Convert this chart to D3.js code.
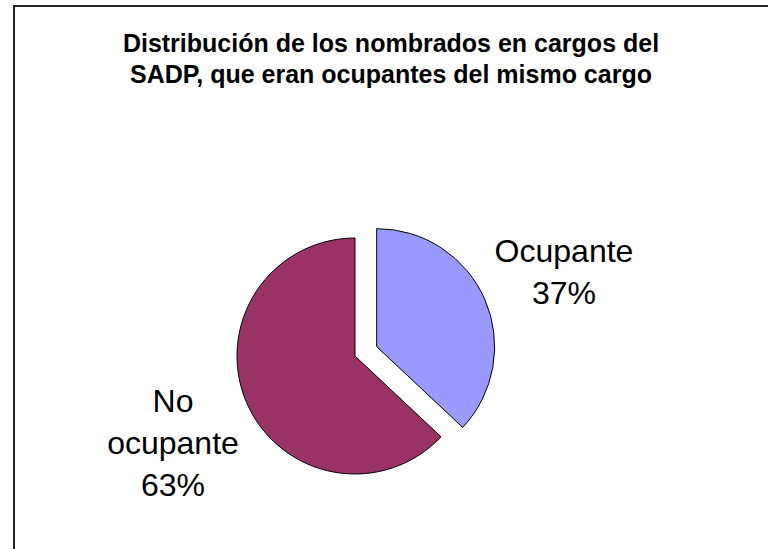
<!DOCTYPE html>
<html>
<head>
<meta charset="utf-8">
<script src="https://cdn.jsdelivr.net/npm/d3@7"></script>
<style>
  html, body { margin: 0; padding: 0; background: #fff; }
  svg { display: block; }
</style>
</head>
<body>
<svg id="chart" width="768" height="549"></svg>
<script>
const titleLines = ["Distribución de los nombrados en cargos del", "SADP, que eran ocupantes del mismo cargo"];
const categories = ["Ocupante", "No ocupante"];
const labelLines = [["Ocupante"], ["No", "ocupante"]];
const values = [37, 63];
const colors = ["#9999FF", "#993366"];

const svg = d3.select("#chart");
const W = 768, H = 549;

// outer frame
svg.append("rect")
  .attr("x", 14).attr("y", 6)
  .attr("width", W).attr("height", H)
  .attr("fill", "none").attr("stroke", "#222").attr("stroke-width", 2);

// title
svg.append("text")
  .attr("text-anchor", "middle")
  .attr("font-family", "Arial, 'Liberation Sans', sans-serif")
  .attr("font-weight", "bold")
  .attr("font-size", 25)
  .attr("fill", "#000")
  .selectAll("tspan").data(titleLines).join("tspan")
  .attr("x", 391)
  .attr("y", (d, i) => 52 + i * 31)
  .text(d => d);

const cx = 355, cy = 356, r = 118, explode = 23.6;
const total = d3.sum(values);
const pie = d3.pie().sort(null).value(d => d)(values);
const arc = d3.arc().innerRadius(0).outerRadius(r);

const g = svg.append("g").attr("transform", `translate(${cx},${cy})`);
g.selectAll("path").data(pie).join("path")
  .attr("d", arc)
  .attr("fill", (d, i) => colors[i])
  .attr("stroke", "#000")
  .attr("stroke-width", 1)
  .attr("transform", (d, i) => {
    if (i !== 0) return null;
    const a = (d.startAngle + d.endAngle) / 2;
    return `translate(${Math.sin(a) * explode},${-Math.cos(a) * explode})`;
  });

// labels
const labelPos = [{x: 564, y: 262}, {x: 173, y: 412}];
const labels = svg.append("g")
  .attr("font-family", "Arial, 'Liberation Sans', sans-serif")
  .attr("font-size", 32)
  .attr("fill", "#000")
  .attr("text-anchor", "middle");
pie.forEach((d, i) => {
  const lines = labelLines[i].concat([Math.round(values[i] / total * 100) + "%"]);
  const t = labels.append("text");
  t.selectAll("tspan").data(lines).join("tspan")
    .attr("x", labelPos[i].x)
    .attr("y", (l, j) => labelPos[i].y + j * 42)
    .text(l => l);
});
</script>
</body>
</html>
